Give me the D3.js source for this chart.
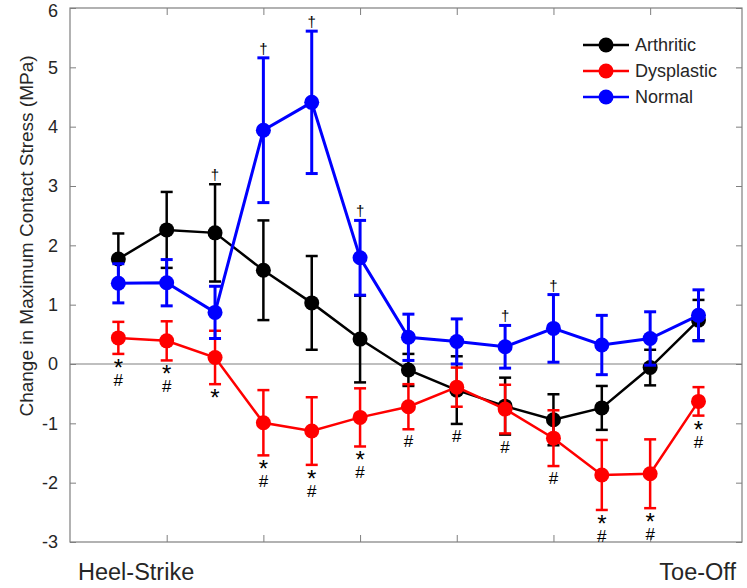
<!DOCTYPE html>
<html>
<head>
<meta charset="utf-8">
<script src="https://cdn.jsdelivr.net/npm/d3@7"></script>
<style>
  html, body { margin: 0; padding: 0; background: #fff; }
  svg { display: block; font-family: "Liberation Sans", Arial, sans-serif; }
</style>
</head>
<body>
<svg id="chart" width="747" height="588"></svg>
<script>
// ---- data ----
const positions = [1, 2, 3, 4, 5, 6, 7, 8, 9, 10, 11, 12, 13];
const seriesNames = ["Arthritic", "Dysplastic", "Normal"];
const seriesColors = ["#000000", "#ff0000", "#0000ff"];

const arthriticMean = [1.77, 2.26, 2.21, 1.58, 1.03, 0.42, -0.10, -0.44, -0.71, -0.94, -0.74, -0.06, 0.74];
const arthriticErr  = [0.43, 0.64, 0.82, 0.84, 0.79, 0.73, 0.27, 0.57, 0.48, 0.43, 0.37, 0.30, 0.34];

const dysplasticMean = [0.44, 0.39, 0.11, -0.99, -1.13, -0.90, -0.72, -0.39, -0.76, -1.25, -1.87, -1.85, -0.63];
const dysplasticErr  = [0.27, 0.33, 0.45, 0.55, 0.57, 0.49, 0.38, 0.33, 0.41, 0.47, 0.59, 0.58, 0.24];

const normalMean = [1.36, 1.37, 0.87, 3.94, 4.41, 1.79, 0.45, 0.38, 0.29, 0.60, 0.32, 0.43, 0.82];
const normalErr  = [0.33, 0.39, 0.44, 1.22, 1.20, 0.63, 0.39, 0.38, 0.36, 0.57, 0.50, 0.45, 0.43];

// significance marks: dagger above (series index, position) and symbols below
const daggerMarks = [[0, 3], [2, 4], [2, 5], [2, 6], [2, 9], [2, 10]];
const belowMarks = ["*\n#", "*\n#", "*", "*\n#", "*\n#", "*\n#", "#", "#", "#", "#", "*\n#", "*\n#", "*\n#"];

const yTicks = [-3, -2, -1, 0, 1, 2, 3, 4, 5, 6];
const xTicks = [2, 4, 6, 8, 10, 12];
const yLabel = "Change in Maximum Contact Stress (MPa)";
const startLabel = "Heel-Strike";
const endLabel = "Toe-Off";

// ---- chart ----
const series = [
  { name: seriesNames[0], color: seriesColors[0], mean: arthriticMean, err: arthriticErr, lw: 2.5, ew: 2.5 },
  { name: seriesNames[1], color: seriesColors[1], mean: dysplasticMean, err: dysplasticErr, lw: 2.5, ew: 2.5 },
  { name: seriesNames[2], color: seriesColors[2], mean: normalMean, err: normalErr, lw: 3, ew: 3 }
];

const svg = d3.select("#chart");
const pLeft = 70, pRight = 742, pTop = 8, pBottom = 542;
const x = d3.scaleLinear().domain([0, 13.9]).range([pLeft, pRight]);
const y = d3.scaleLinear().domain([-3, 6]).range([pBottom, pTop]);
const axisColor = "#7f7f7f";
const textColor = "#262626";

// axes box
svg.append("rect").attr("x", pLeft).attr("y", pTop).attr("width", pRight - pLeft).attr("height", pBottom - pTop)
  .attr("fill", "none").attr("stroke", axisColor).attr("stroke-width", 1.2);

// left axis with inward ticks
const yAxisL = d3.axisLeft(y).tickValues(yTicks).tickSizeInner(-6).tickSizeOuter(0).tickPadding(12).tickFormat(d => String(d));
const gY = svg.append("g").attr("transform", `translate(${pLeft},0)`).call(yAxisL);
gY.select(".domain").remove();
gY.selectAll("line").attr("stroke", axisColor);
gY.selectAll("text").attr("fill", textColor).style("font-size", "18px").style("font-family", "Liberation Sans, Arial, sans-serif");
// keep the top label inside the picture
gY.selectAll(".tick").filter(d => d === 6).select("text").attr("dy", "0.36em").attr("y", 2);

// right axis ticks
const yAxisR = d3.axisRight(y).tickValues(yTicks).tickSizeInner(-6).tickSizeOuter(0).tickFormat("");
const gYR = svg.append("g").attr("transform", `translate(${pRight},0)`).call(yAxisR);
gYR.select(".domain").remove();
gYR.selectAll("line").attr("stroke", axisColor);

// bottom + top x ticks
const xAxisB = d3.axisBottom(x).tickValues(xTicks).tickSizeInner(-7).tickSizeOuter(0).tickFormat("");
const gXB = svg.append("g").attr("transform", `translate(0,${pBottom})`).call(xAxisB);
gXB.select(".domain").remove();
gXB.selectAll("line").attr("stroke", axisColor);
const xAxisT = d3.axisTop(x).tickValues(xTicks).tickSizeInner(-7).tickSizeOuter(0).tickFormat("");
const gXT = svg.append("g").attr("transform", `translate(0,${pTop})`).call(xAxisT);
gXT.select(".domain").remove();
gXT.selectAll("line").attr("stroke", axisColor);

// zero line
svg.append("line").attr("x1", pLeft).attr("x2", pRight).attr("y1", y(0)).attr("y2", y(0))
  .attr("stroke", "#808080").attr("stroke-width", 1.2);

// y label
svg.append("text")
  .attr("transform", `translate(26,236) rotate(-90)`)
  .attr("text-anchor", "middle").attr("dominant-baseline", "central")
  .attr("fill", textColor).style("font-size", "19px")
  .text(yLabel);

// Heel-Strike / Toe-Off
svg.append("text").attr("x", 78).attr("y", 580).attr("fill", textColor).style("font-size", "23.5px").text(startLabel);
svg.append("text").attr("x", 736).attr("y", 580).attr("text-anchor", "end").attr("fill", textColor).style("font-size", "23.5px").text(endLabel);

// series
const capHalf = 6;
const line = d3.line().x(d => x(d.p)).y(d => y(d.m));
series.forEach(s => {
  const pts = positions.map((p, i) => ({ p, m: s.mean[i], e: s.err[i] }));
  const g = svg.append("g");
  pts.forEach(d => {
    const x0 = x(d.p), yt = y(d.m + d.e), yb = y(d.m - d.e);
    g.append("line").attr("x1", x0).attr("x2", x0).attr("y1", yt).attr("y2", yb).attr("stroke", s.color).attr("stroke-width", s.ew);
    g.append("line").attr("x1", x0 - capHalf).attr("x2", x0 + capHalf).attr("y1", yt).attr("y2", yt).attr("stroke", s.color).attr("stroke-width", s.ew);
    g.append("line").attr("x1", x0 - capHalf).attr("x2", x0 + capHalf).attr("y1", yb).attr("y2", yb).attr("stroke", s.color).attr("stroke-width", s.ew);
  });
  g.append("path").datum(pts).attr("d", line).attr("fill", "none").attr("stroke", s.color).attr("stroke-width", s.lw);
  g.selectAll("circle").data(pts).join("circle")
    .attr("cx", d => x(d.p)).attr("cy", d => y(d.m)).attr("r", 7.5).attr("fill", s.color);
});

// dagger marks
daggerMarks.forEach(([si, p]) => {
  const s = series[si], i = positions.indexOf(p);
  svg.append("text").attr("x", x(p)).attr("y", y(s.mean[i] + s.err[i]) - 4)
    .attr("text-anchor", "middle").attr("fill", "#000").style("font-size", "15px").text("\u2020");
});

// below marks (under lowest error bar at each position), one text per position
positions.forEach((p, i) => {
  const lows = series.filter((s, k) => k !== 2).map(s => s.mean[i] - s.err[i]);
  const yLow = y(Math.min(...lows));
  const lines = belowMarks[i].split("\n");
  const t = svg.append("text").attr("x", x(p)).attr("y", yLow)
    .attr("text-anchor", "middle").attr("fill", "#000");
  let cur = 0;
  lines.forEach((ch, k) => {
    const isStar = ch === "*";
    const target = (isStar ? 22 : 18) + k * 14;
    t.append("tspan").attr("x", x(p)).attr("dy", target - cur)
      .style("font-size", isStar ? "24px" : "17px").text(ch);
    cur = target;
  });
});

// legend
const legX = 583, legY = 45, legDy = 26;
series.forEach((s, k) => {
  const gy = legY + k * legDy;
  svg.append("line").attr("x1", legX).attr("x2", legX + 46).attr("y1", gy).attr("y2", gy).attr("stroke", s.color).attr("stroke-width", 2.5);
  svg.append("circle").attr("cx", legX + 23).attr("cy", gy).attr("r", 7.5).attr("fill", s.color);
  svg.append("text").attr("x", legX + 52).attr("y", gy).attr("dominant-baseline", "central").attr("fill", textColor).style("font-size", "18px").text(s.name);
});
</script>
</body>
</html>
